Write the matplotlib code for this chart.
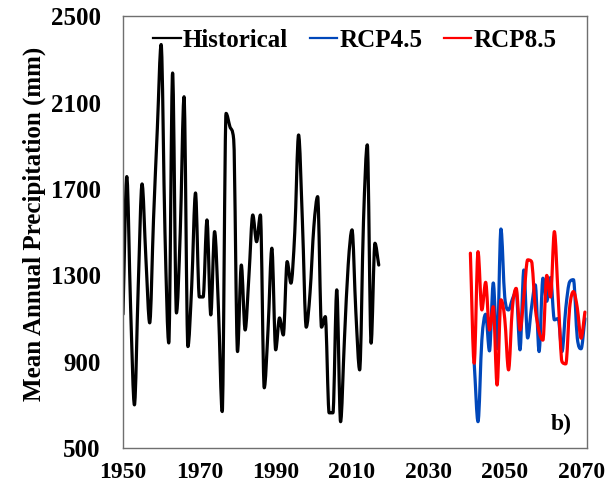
import numpy as np
import matplotlib.pyplot as plt
from matplotlib.path import Path
from matplotlib.patches import PathPatch
from matplotlib.lines import Line2D

## Data ##
hist_years = list(range(1950, 2018))
hist_vals = [1120, 1758, 1150, 700, 1250, 1724, 1380, 1080, 1560, 1980,
             2370, 1500, 987, 2238, 1126, 1500, 2128, 970, 1250, 1682,
             1200, 1200, 1557, 1117, 1503, 1150, 669, 2051, 1990, 1930,
             947, 1348, 1047, 1300, 1580, 1456, 1580, 779, 1050, 1426,
             955, 1103, 1024, 1364, 1264, 1500, 1951, 1550, 1060, 1220,
             1526, 1665, 1060, 1109, 663, 663, 1233, 622, 1000, 1350,
             1511, 1130, 862, 1550, 1905, 986, 1449, 1348]

rcp45_years = list(range(2042, 2072))
rcp45_vals = [893, 622, 1000, 1120, 950, 1265, 960, 1515, 1200, 1140,
              1190, 1225, 955, 1325, 1010, 1150, 1256, 947, 1287, 1180,
              1290, 1094, 1100, 947, 1150, 1270, 1280, 1010, 960, 1100]

rcp85_years = list(range(2041, 2072))
rcp85_vals = [1403, 893, 1410, 1140, 1268, 1047, 1155, 792, 1187, 1100,
              862, 1150, 1240, 1047, 1200, 1372, 1365, 1150, 1040, 1000,
              1300, 1200, 1503, 1200, 900, 890, 1150, 1225, 1150, 1009,
              1130]

xticks = [1950, 1970, 1990, 2010, 2030, 2050, 2070]
yticks = [500, 900, 1300, 1700, 2100, 2500]

c_hist = 'black'; c_45 = '#0047BA'; c_85 = '#FF0000'
lw = 2.3

plt.rcParams['font.family'] = ['Liberation Serif', 'DejaVu Serif']
plt.rcParams['font.weight'] = 'bold'


def smooth_path(xs, ys):
  # smoothed line drawn as cubic Bezier segments through every data point
  # (flat tangent at local peaks/troughs, limited slope elsewhere)
  x = np.asarray(xs, float); y = np.asarray(ys, float)
  n = len(x)
  d = np.diff(y) / np.diff(x)
  m = np.zeros(n)
  m[0] = d[0]; m[-1] = d[-1]
  for i in range(1, n - 1):
    if d[i-1] * d[i] <= 0:
      m[i] = 0.0
    else:
      m[i] = (d[i-1] + d[i]) / 2
      lim = 3 * min(abs(d[i-1]), abs(d[i]))
      m[i] = np.sign(m[i]) * min(abs(m[i]), lim)
  verts = [(x[0], y[0])]; codes = [Path.MOVETO]
  for i in range(n - 1):
    h = x[i+1] - x[i]
    verts += [(x[i] + h/3, y[i] + m[i]*h/3),
              (x[i+1] - h/3, y[i+1] - m[i+1]*h/3),
              (x[i+1], y[i+1])]
    codes += [Path.CURVE4] * 3
  return Path(verts, codes)


fig = plt.figure(figsize=(6.10, 4.92), dpi=100)
ax = fig.add_axes([0.2016, 0.0894, 0.7604, 0.8771])

for xs, ys, col in [(hist_years, hist_vals, c_hist),
                    (rcp45_years, rcp45_vals, c_45),
                    (rcp85_years, rcp85_vals, c_85)]:
  ax.add_patch(PathPatch(smooth_path(xs, ys), fill=False, edgecolor=col,
                         lw=lw, capstyle='round', joinstyle='round'))

ax.set_xlim(1950, 2071.5)
ax.set_ylim(500, 2500)
ax.set_xticks(xticks)
ax.set_yticks(yticks)
ax.tick_params(length=0, labelsize=17)
ax.tick_params(axis='x', pad=10)
ax.tick_params(axis='y', pad=16, labelsize=18)
for s in ax.spines.values():
  s.set_color('#6f6f6f'); s.set_linewidth(1.0)
ax.set_ylabel('Mean Annual Precipitation (mm)', fontsize=18, fontweight='bold')
ax.yaxis.set_label_coords(-0.165, 0.52)

handles = [Line2D([], [], color=c_hist, lw=1.6),
           Line2D([], [], color=c_45, lw=1.6),
           Line2D([], [], color=c_85, lw=1.6)]
ax.legend(handles, ['Historical', 'RCP4.5', 'RCP8.5'], ncol=3, frameon=False,
          loc='upper center', bbox_to_anchor=(0.5, 1.0), fontsize=18,
          handlelength=1.1, handletextpad=0.1, columnspacing=0.85,
          borderaxespad=0.1)

ax.text(0.945, 0.055, 'b)', transform=ax.transAxes, fontsize=17,
        fontweight='bold', ha='center', va='center')

fig.savefig('out.png', dpi=100)
